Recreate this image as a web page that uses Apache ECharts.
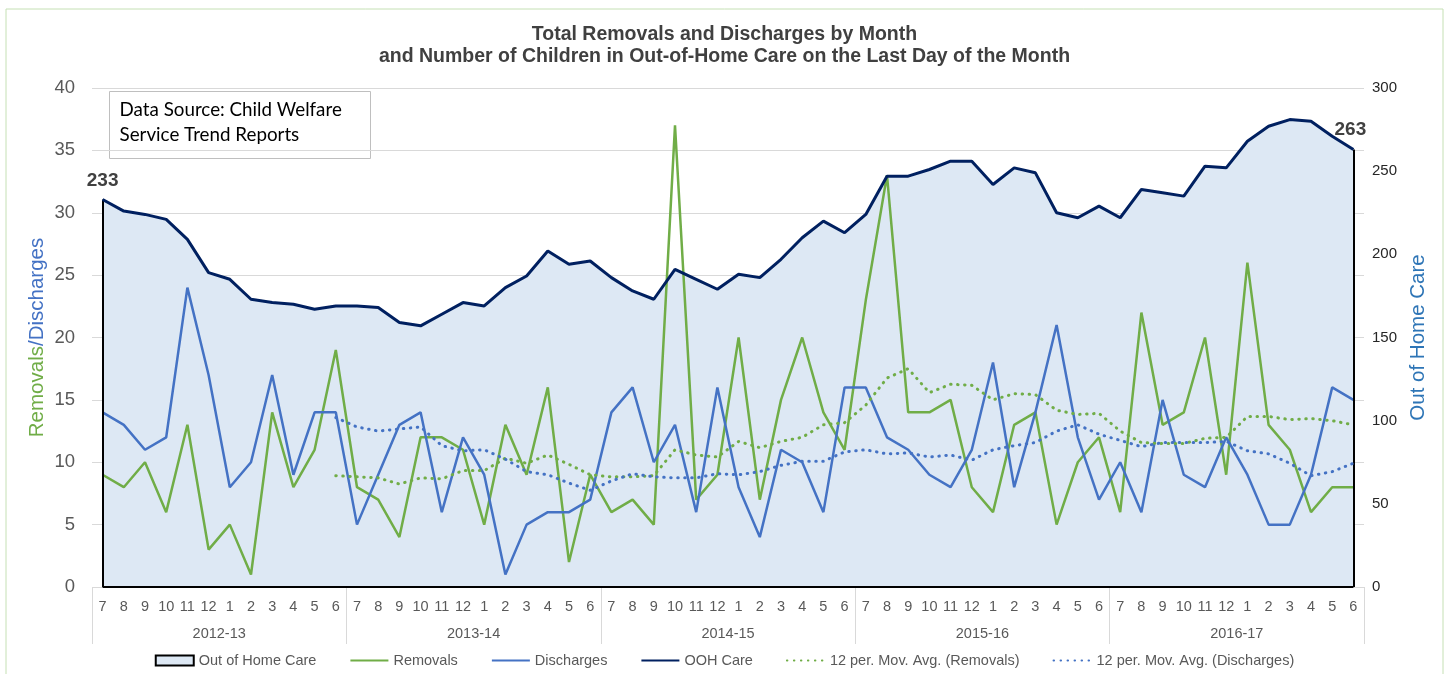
<!DOCTYPE html>
<html>
<head>
<meta charset="utf-8">
<title>Total Removals and Discharges by Month</title>
<script src="https://cdn.jsdelivr.net/npm/echarts@6/dist/echarts.min.js"></script>
<style>
  html, body { margin: 0; padding: 0; background: #ffffff; }
  #chart { width: 1449px; height: 674px; }
</style>
</head>
<body>
<div id="chart"></div>
<script>
// Fiscal-year months, July through June
const months = ['7','8','9','10','11','12','1','2','3','4','5','6'];
const fiscalYears = ['2012-13', '2013-14', '2014-15', '2015-16', '2016-17'];
const monthLabels = fiscalYears.flatMap(() => months);

// Children removed from home each month
const removals = [
  9, 8, 10, 6, 13, 3, 5, 1, 14, 8, 11, 19,
  8, 7, 4, 12, 12, 11, 5, 13, 9, 16, 2, 9,
  6, 7, 5, 37, 7, 9, 20, 7, 15, 20, 14, 11,
  23, 33, 14, 14, 15, 8, 6, 13, 14, 5, 10, 12,
  6, 22, 13, 14, 20, 9, 26, 13, 11, 6, 8, 8
];

// Children discharged from care each month
const discharges = [
  14, 13, 11, 12, 24, 17, 8, 10, 17, 9, 14, 14,
  5, 9, 13, 14, 6, 12, 9, 1, 5, 6, 6, 7,
  14, 16, 10, 13, 6, 16, 8, 4, 11, 10, 6, 16,
  16, 12, 11, 9, 8, 11, 18, 8, 14, 21, 12, 7,
  10, 6, 15, 9, 8, 12, 9, 5, 5, 9, 16, 15
];

// Children in out-of-home care on the last day of each month
const oohCare = [
  233, 226, 224, 221, 209, 189, 185, 173, 171, 170, 167, 169,
  169, 168, 159, 157, 164, 171, 169, 180, 187, 202, 194, 196,
  186, 178, 173, 191, 185, 179, 188, 186, 197, 210, 220, 213,
  224, 247, 247, 251, 256, 256, 242, 252, 249, 225, 222, 229,
  222, 239, 237, 235, 253, 252, 268, 277, 281, 280, 271, 263
];

// 12-period moving averages (first value at June 2013)
const removalsAvg = [
  '-', '-', '-', '-', '-', '-', '-', '-', '-', '-', '-', 8.92,
  8.83, 8.75, 8.25, 8.75, 8.67, 9.33, 9.33, 10.33, 9.92, 10.58, 9.83, 9.0,
  8.83, 8.83, 8.92, 11.0, 10.58, 10.42, 11.67, 11.17, 11.67, 12.0, 13.0, 13.17,
  14.58, 16.75, 17.5, 15.58, 16.25, 16.17, 15.0, 15.5, 15.42, 14.17, 13.83, 13.92,
  12.5, 11.58, 11.5, 11.5, 11.92, 12.0, 13.67, 13.67, 13.42, 13.5, 13.33, 13.0
];
const dischargesAvg = [
  '-', '-', '-', '-', '-', '-', '-', '-', '-', '-', '-', 13.58,
  12.83, 12.5, 12.67, 12.83, 11.33, 10.92, 11.0, 10.25, 9.25, 9.0, 8.33, 7.75,
  8.5, 9.08, 8.83, 8.75, 8.75, 9.08, 9.0, 9.25, 9.75, 10.08, 10.08, 10.83,
  11.0, 10.67, 10.75, 10.42, 10.58, 10.17, 11.0, 11.33, 11.58, 12.5, 13.0, 12.25,
  11.75, 11.25, 11.58, 11.58, 11.58, 11.67, 10.92, 10.67, 9.92, 8.92, 9.25, 9.92
];

const GREEN = '#70ad47';
const BLUE = '#4472c4';
const NAVY = '#002060';
const AREA = '#dde8f4';
const FONT = '"Liberation Sans", Arial, sans-serif';

const last = oohCare.length - 1;

const endLabel = {
  show: true,
  position: 'top',
  formatter: '{c}',
  fontSize: 19, fontWeight: 'bold', color: '#404040', fontFamily: FONT
};

const chart = echarts.init(document.getElementById('chart'), null, { renderer: 'canvas' });

chart.setOption({
  animation: false,
  backgroundColor: '#ffffff',
  textStyle: { fontFamily: FONT },
  title: {
    text: 'Total Removals and Discharges by Month\nand Number of Children in Out-of-Home Care on the Last Day of the Month',
    left: 'center',
    top: 19,
    textStyle: {
      fontFamily: FONT, fontSize: 19.5, fontWeight: 'bold', color: '#404040', lineHeight: 22
    }
  },
  graphic: [
    {
      type: 'rect', silent: true, z: -10,
      shape: { x: 6, y: 9, width: 1437, height: 672 },
      style: { fill: 'none', stroke: '#c5e0b4', lineWidth: 1 }
    },
    {
      type: 'group', left: 109, top: 91, z: 50,
      children: [
        {
          type: 'rect',
          shape: { x: 0, y: 0, width: 261, height: 67 },
          style: { fill: '#ffffff', stroke: '#bfbfbf', lineWidth: 1 }
        },
        {
          type: 'text', x: 10, y: 6,
          style: {
            text: 'Data Source: Child Welfare\nService Trend Reports',
            font: '18.8px Lato, "Open Sans", sans-serif',
            fill: '#000000', lineHeight: 25
          }
        }
      ]
    }
  ],
  legend: {
    bottom: 1,
    left: 'center',
    itemWidth: 38,
    itemHeight: 10,
    itemGap: 33,
    textStyle: { fontFamily: FONT, fontSize: 14.5, color: '#595959' },
    // line icons are drawn as plain strokes, without the marker dot
    itemStyle: { opacity: 0 },
    data: [
      { name: 'Out of Home Care', icon: 'rect',
        itemStyle: { color: AREA, borderColor: '#000000', borderWidth: 2, opacity: 1 } },
      'Removals', 'Discharges', 'OOH Care',
      '12 per. Mov. Avg. (Removals)', '12 per. Mov. Avg. (Discharges)'
    ]
  },
  grid: { left: 92, right: 85, top: 88, bottom: 87, containLabel: false },
  xAxis: [
    {
      type: 'category',
      data: monthLabels,
      boundaryGap: true,
      position: 'bottom',
      axisLine: { show: false },
      axisTick: { show: false },
      axisLabel: { interval: 0, fontSize: 14.5, color: '#595959', margin: 12, fontFamily: FONT }
    },
    {
      type: 'category',
      data: fiscalYears,
      boundaryGap: true,
      position: 'bottom',
      offset: 0,
      axisLine: { show: false },
      axisTick: { show: true, length: 57, lineStyle: { color: '#d9d9d9', width: 1 } },
      axisLabel: { fontSize: 14.5, color: '#595959', margin: 39, fontFamily: FONT },
      splitLine: { show: false }
    }
  ],
  yAxis: [
    {
      type: 'value',
      min: 0, max: 40, interval: 5,
      position: 'left',
      axisLine: { show: false },
      axisTick: { show: false },
      axisLabel: { fontSize: 18.5, color: '#595959', margin: 17, fontFamily: FONT },
      splitLine: { lineStyle: { color: '#d9d9d9', width: 1 } },
      name: '{g|Removals}{b|/Discharges}',
      nameLocation: 'middle',
      nameRotate: 90,
      nameGap: 44,
      nameMoveOverlap: false,
      nameTextStyle: {
        rich: {
          g: { color: GREEN, fontSize: 20.5, fontFamily: FONT },
          b: { color: BLUE, fontSize: 20.5, fontFamily: FONT }
        }
      }
    },
    {
      type: 'value',
      min: 0, max: 300, interval: 50,
      position: 'right',
      axisLine: { show: false },
      axisTick: { show: false },
      axisLabel: { fontSize: 15, color: '#262626', margin: 8, fontFamily: FONT },
      splitLine: { show: false },
      name: 'Out of Home Care',
      nameLocation: 'middle',
      nameRotate: 90,
      nameGap: 43,
      nameTextStyle: { color: '#2e75b6', fontSize: 20.5, fontFamily: FONT }
    }
  ],
  series: [
    {
      name: 'Out of Home Care',
      type: 'line',
      xAxisIndex: 0,
      yAxisIndex: 1,
      data: oohCare,
      symbol: 'none',
      lineStyle: { width: 0, color: AREA },
      itemStyle: { color: AREA, borderColor: '#000000', borderWidth: 2 },
      areaStyle: { color: AREA, opacity: 1 },
      z: 1,
      silent: true,
      markLine: {
        silent: true,
        symbol: ['none', 'none'],
        label: { show: false },
        lineStyle: { color: '#000000', width: 2, type: 'solid' },
        emphasis: { disabled: true },
        data: [
          [{ coord: [0, 0] }, { coord: [last, 0] }],
          [{ coord: [0, 0] }, { coord: [0, oohCare[0]] }],
          [{ coord: [last, 0] }, { coord: [last, oohCare[last]] }]
        ]
      }
    },
    {
      name: 'Removals',
      type: 'line',
      yAxisIndex: 0,
      data: removals,
      symbol: 'none',
      lineStyle: { color: GREEN, width: 2.5 },
      itemStyle: { color: GREEN },
      z: 3
    },
    {
      name: 'Discharges',
      type: 'line',
      yAxisIndex: 0,
      data: discharges,
      symbol: 'none',
      lineStyle: { color: BLUE, width: 2.5 },
      itemStyle: { color: BLUE },
      z: 4
    },
    {
      name: 'OOH Care',
      type: 'line',
      yAxisIndex: 1,
      data: oohCare,
      symbol: 'none',
      lineStyle: { color: NAVY, width: 3 },
      itemStyle: { color: NAVY },
      z: 5,
      markPoint: {
        silent: true,
        symbol: 'circle',
        symbolSize: 1,
        itemStyle: { color: 'rgba(0,0,0,0)' },
        data: [
          { coord: [0, oohCare[0]], value: oohCare[0],
            label: Object.assign({}, endLabel, { distance: 9, offset: [0, 0] }) },
          { coord: [last, oohCare[last]], value: oohCare[last],
            label: Object.assign({}, endLabel, { distance: 10, offset: [-3, 0] }) }
        ]
      }
    },
    {
      name: '12 per. Mov. Avg. (Removals)',
      type: 'line',
      yAxisIndex: 0,
      data: removalsAvg,
      symbol: 'none',
      lineStyle: { color: GREEN, width: 3, type: [0.5, 6.5], cap: 'round' },
      itemStyle: { color: GREEN },
      z: 6
    },
    {
      name: '12 per. Mov. Avg. (Discharges)',
      type: 'line',
      yAxisIndex: 0,
      data: dischargesAvg,
      symbol: 'none',
      lineStyle: { color: BLUE, width: 3, type: [0.5, 6.5], cap: 'round' },
      itemStyle: { color: BLUE },
      z: 6
    }
  ]
});
</script>
</body>
</html>
